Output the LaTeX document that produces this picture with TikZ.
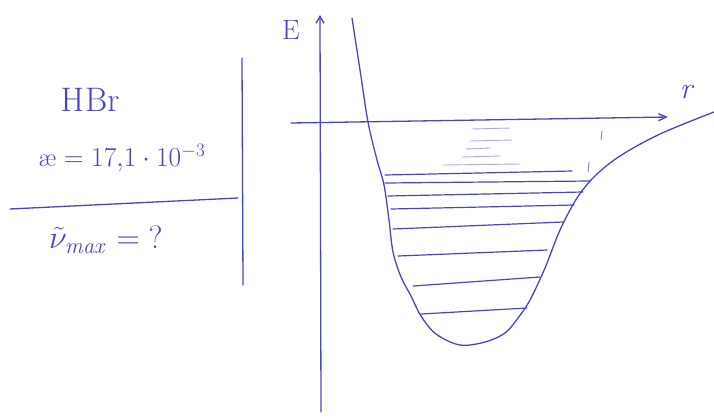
\documentclass[tikz,border=0pt]{standalone}
\usetikzlibrary{arrows.meta}
\definecolor{ink}{RGB}{70,70,205}
\begin{document}
\begin{tikzpicture}[x=1pt,y=1pt,
  pen/.style={draw=ink,line width=1.3pt,line cap=round,line join=round},
  level/.style={draw=ink,line width=1.2pt,line cap=round},
  faint/.style={draw=ink!45,line width=0.9pt,line cap=round},
  hand/.style={text=ink,font=\fontsize{34}{38}\selectfont,inner sep=0pt}]
\useasboundingbox (0,0) rectangle (714,-416);
% left panel
\node[hand] (hbr) at (90,-100) {H\kern1pt Br};
\node[hand,font=\fontsize{24}{28}\selectfont,scale=1.1] (kappa) at (122,-158) {\ae${}=17{,}1\cdot 10^{-3}$};
\node[hand,font=\fontsize{24}{28}\selectfont,scale=1.3] (num) at (106,-240) {$\tilde{\nu}_{\mathit{max}}={?}$};
\coordinate (hl1) at (10,-209);
\coordinate (hl2) at (238,-198);
\draw[pen] (hl1) -- (hl2);
\coordinate (vl1) at (242,-58);
\coordinate (vl2) at (243,-285);
\draw[pen] (vl1) -- (vl2);
% axes
\coordinate (ey0) at (321,-412);
\coordinate (ey1) at (320,-15);
\draw[pen,-{Straight Barb[length=7pt,width=8pt]}] (ey0) -- (ey1);
\node[hand,font=\fontsize{28}{32}\selectfont] (elab) at (291,-30) {E};
\coordinate (rx0) at (291,-123);
\coordinate (rx1) at (668,-117);
\draw[pen,-{Straight Barb[length=8pt,width=7pt]}] (rx0) -- (rx1);
\node[hand,font=\fontsize{30}{34}\selectfont\itshape] (rlab) at (686,-92) {r};
% potential curve
\draw[pen] plot[smooth,tension=0.55] coordinates {
 (352,-18) (360,-70) (368,-122) (377,-160) (384,-185) (389,-220) (393,-252)
 (401,-277) (411,-296) (421,-316) (436,-334) (460,-345) (485,-342)
 (505,-333) (518,-318) (530,-300) (545,-268) (560,-230) (577,-198)
 (595,-176) (620,-156) (660,-134) (714,-112)};
% vibrational levels
\draw[level] (385,-175) -- (572,-171);
\draw[level] (385,-183) -- (590,-181);
\draw[level] (388,-196) -- (583,-192);
\draw[level] (391,-209) -- (574,-205);
\draw[level] (393,-229) -- (563,-222);
\draw[level] (398,-256) -- (547,-250);
\draw[level] (413,-286) -- (540,-277);
\draw[level] (421,-314) -- (527,-308);
% faint converging levels
\draw[faint] (443,-165) -- (520,-164);
\draw[faint] (462,-157) -- (500,-156);
\draw[faint] (466,-149) -- (490,-148);
\draw[faint] (470,-141) -- (512,-140);
\draw[faint] (472,-129) -- (510,-128);
% dashed limit ticks
\draw[faint,draw=ink!70] (602,-131) -- (601,-140);
\draw[faint,draw=ink!70] (589,-162) -- (588,-172);
\end{tikzpicture}
\end{document}
